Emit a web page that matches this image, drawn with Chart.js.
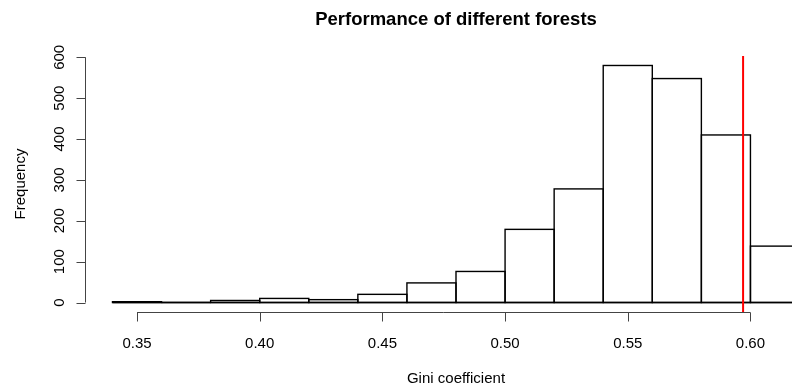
<!DOCTYPE html>
<html>
<head>
<meta charset="utf-8">
<script src="https://cdn.jsdelivr.net/npm/chart.js@4"></script>
<style>
  html, body { margin: 0; padding: 0; background: #fff; overflow: hidden; }
  #wrap { width: 842px; height: 387px; }
</style>
</head>
<body>
<div id="wrap"><canvas id="hist" width="842" height="387"></canvas></div>
<script>
// histogram bins (left edges, width 0.02) and counts
const binStarts = [0.34, 0.36, 0.38, 0.40, 0.42, 0.44, 0.46, 0.48, 0.50, 0.52, 0.54, 0.56, 0.58, 0.60];
const binCounts = [2, 0, 5, 10, 7, 20, 48, 76, 179, 278, 580, 548, 410, 138];
const binWidth = 0.02;

// axis ticks
const xTicks = [0.35, 0.40, 0.45, 0.50, 0.55, 0.60];
const yTicks = [0, 100, 200, 300, 400, 500, 600];

// reference value marked in red
const giniMark = 0.597;

const titleText = 'Performance of different forests';
const xTitle = 'Gini coefficient';
const yTitle = 'Frequency';

const FONT = '"Liberation Sans", Arial, Helvetica, sans-serif';

// R-style extended ranges (4% each side)
const xLo = binStarts[0], xHi = binStarts[binStarts.length - 1] + binWidth;
const yHi = Math.max(...binCounts);
const xPad = (xHi - xLo) * 0.04, yPad = yHi * 0.04;

const rAxes = {
  id: 'rAxes',
  afterDatasetsDraw(chart) {
    const { ctx, chartArea: a } = chart;
    const xs = chart.scales.x, ys = chart.scales.y;
    ctx.save();
    ctx.strokeStyle = '#000';
    ctx.lineWidth = 1.4;
    // bar outlines centred on the bin edges
    chart.getDatasetMeta(0).data.forEach(bar => {
      const { x, y, base, width } = bar.getProps(['x', 'y', 'base', 'width'], true);
      ctx.strokeRect(x - width / 2, y, width, base - y);
    });
    // baseline under the bars
    ctx.beginPath();
    ctx.moveTo(xs.getPixelForValue(xLo), ys.getPixelForValue(0));
    ctx.lineTo(xs.getPixelForValue(xHi), ys.getPixelForValue(0));
    ctx.stroke();
    // vertical marker
    const mx = xs.getPixelForValue(giniMark);
    ctx.strokeStyle = '#ff0000';
    ctx.lineWidth = 2;
    ctx.beginPath();
    ctx.moveTo(mx, a.top);
    ctx.lineTo(mx, a.bottom);
    ctx.stroke();
    ctx.restore();
  },
  afterDraw(chart) {
    const { ctx, chartArea: a } = chart;
    const xs = chart.scales.x, ys = chart.scales.y;
    const tick = 9;
    ctx.save();
    ctx.strokeStyle = '#444';
    ctx.fillStyle = '#000';
    ctx.lineWidth = 1;

    // x axis
    const ay = Math.round(a.bottom) + 0.5;
    ctx.beginPath();
    ctx.moveTo(xs.getPixelForValue(xTicks[0]), ay);
    ctx.lineTo(xs.getPixelForValue(xTicks[xTicks.length - 1]), ay);
    xTicks.forEach(v => {
      const px = Math.round(xs.getPixelForValue(v)) + 0.5;
      ctx.moveTo(px, ay);
      ctx.lineTo(px, ay + tick);
    });
    ctx.stroke();
    ctx.font = '15px ' + FONT;
    ctx.textAlign = 'center';
    ctx.textBaseline = 'alphabetic';
    xTicks.forEach(v => {
      ctx.fillText(v.toFixed(2), xs.getPixelForValue(v), ay + 35);
    });

    // y axis
    const ax = Math.round(a.left) + 0.5;
    ctx.beginPath();
    ctx.moveTo(ax, ys.getPixelForValue(yTicks[0]));
    ctx.lineTo(ax, ys.getPixelForValue(yTicks[yTicks.length - 1]));
    yTicks.forEach(v => {
      const py = Math.round(ys.getPixelForValue(v)) + 0.5;
      ctx.moveTo(ax, py);
      ctx.lineTo(ax - tick, py);
    });
    ctx.stroke();
    yTicks.forEach(v => {
      ctx.save();
      ctx.translate(ax - 22, ys.getPixelForValue(v));
      ctx.rotate(-Math.PI / 2);
      ctx.fillText(String(v), 0, 0);
      ctx.restore();
    });

    // titles
    const cx = (a.left + a.right) / 2;
    ctx.fillText(xTitle, cx, 383);
    ctx.save();
    ctx.translate(25, (a.top + a.bottom) / 2);
    ctx.rotate(-Math.PI / 2);
    ctx.fillText(yTitle, 0, 0);
    ctx.restore();

    ctx.font = 'bold 18.5px ' + FONT;
    ctx.fillText(titleText, cx, 25);
    ctx.restore();
  }
};

new Chart(document.getElementById('hist'), {
  type: 'bar',
  data: {
    datasets: [{
      data: binStarts.map((s, i) => ({ x: s + binWidth / 2, y: binCounts[i] })),
      backgroundColor: '#ffffff',
      borderWidth: 0,
      barPercentage: 1,
      categoryPercentage: 1
    }]
  },
  options: {
    responsive: false,
    animation: false,
    layout: { padding: { left: 85, right: 15, top: 56, bottom: 75 } },
    plugins: { legend: { display: false }, tooltip: { enabled: false }, title: { display: false } },
    scales: {
      x: { type: 'linear', display: false, offset: false, min: xLo - xPad, max: xHi + xPad },
      y: { type: 'linear', display: false, min: -yPad, max: yHi + yPad }
    }
  },
  plugins: [rAxes]
});
</script>
</body>
</html>
